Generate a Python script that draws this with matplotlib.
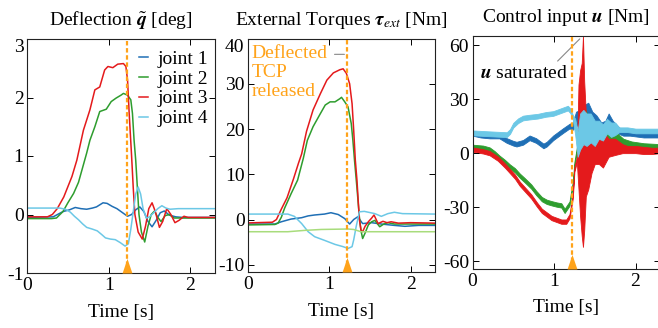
import numpy as np
import matplotlib
matplotlib.use("Agg")
import matplotlib.pyplot as plt
from matplotlib.transforms import blended_transform_factory

plt.rcParams['font.family'] = ['Liberation Serif', 'DejaVu Serif']
plt.rcParams['mathtext.fontset'] = 'stix'
plt.rcParams['axes.unicode_minus'] = False
plt.rcParams['font.size'] = 14

# ---------------- data ----------------
t_release = 1.22
joint_labels = ['joint 1', 'joint 2', 'joint 3', 'joint 4']
c_blue, c_green, c_red, c_cyan, c_lgreen = '#1f6fb5', '#2e9d2e', '#e41a1c', '#6cc8e6', '#a8dc7c'
c_orange = '#ffa31a'

# Panel 1: deflection [deg]
q1_t = [0, 0.32, 0.44, 0.52, 0.59, 0.66, 0.73, 0.80, 0.85, 0.93, 0.98, 1.04, 1.10, 1.18, 1.23, 1.28,
        1.33, 1.38, 1.43, 1.48, 1.53, 1.58, 1.63, 1.68, 1.74, 1.82, 1.90, 2.3]
q1_v = [-0.05, -0.04, 0.05, 0.08, 0.12, 0.10, 0.09, 0.11, 0.13, 0.20, 0.19, 0.14, 0.10, 0.02, -0.03, 0.0,
        0.08, 0.13, 0.05, -0.12, -0.21, -0.10, 0.03, 0.06, -0.01, -0.04, -0.05, -0.05]
q2_t = [0, 0.30, 0.36, 0.44, 0.50, 0.57, 0.63, 0.69, 0.73, 0.77, 0.83, 0.89, 0.97, 1.03, 1.09, 1.15,
        1.18, 1.23, 1.27, 1.29, 1.31, 1.33, 1.37, 1.40, 1.44, 1.48, 1.52, 1.56, 1.60, 1.64, 1.69, 1.74,
        1.80, 2.3]
q2_v = [-0.07, -0.07, -0.06, 0.05, 0.20, 0.36, 0.55, 0.85, 1.05, 1.27, 1.50, 1.76, 1.80, 1.93, 1.99, 2.04,
        2.07, 2.04, 1.96, 1.73, 1.27, 0.93, 0.0, -0.30, -0.47, -0.20, 0.0, 0.06, -0.05, -0.12, -0.02, 0.0,
        -0.06, -0.06]
q3_t = [0, 0.25, 0.31, 0.37, 0.45, 0.55, 0.61, 0.69, 0.77, 0.83, 0.89, 0.95, 0.99, 1.05, 1.11, 1.18,
        1.21, 1.23, 1.25, 1.28, 1.30, 1.32, 1.36, 1.41, 1.45, 1.49, 1.53, 1.57, 1.62, 1.66, 1.71, 1.76,
        1.81, 1.86, 1.92, 1.97, 2.3]
q3_v = [-0.04, -0.04, 0.0, 0.10, 0.30, 0.65, 0.93, 1.44, 1.79, 2.13, 2.18, 2.47, 2.53, 2.51, 2.57, 2.58,
        2.53, 2.30, 1.73, 0.99, 0.45, 0.0, -0.30, -0.42, -0.20, 0.10, 0.20, 0.05, -0.22, -0.12, 0.10, 0.0,
        -0.14, -0.10, -0.03, -0.05, -0.05]
q4_t = [0, 0.40, 0.47, 0.53, 0.58, 0.63, 0.68, 0.73, 0.80, 0.86, 0.92, 0.96, 1.02, 1.08, 1.14, 1.20,
        1.24, 1.27, 1.30, 1.33, 1.36, 1.39, 1.42, 1.46, 1.50, 1.55, 1.60, 1.65, 1.70, 1.75, 1.85, 2.3]
q4_v = [0.11, 0.11, 0.09, 0.04, -0.03, -0.09, -0.16, -0.22, -0.25, -0.28, -0.35, -0.40, -0.42, -0.43, -0.48, -0.54,
        -0.50, -0.25, 0.05, 0.35, 0.47, 0.35, 0.10, -0.06, -0.04, 0.03, 0.10, 0.15, 0.11, 0.09, 0.10, 0.10]

# Panel 2: external torques [Nm]
e1_t = [0, 0.33, 0.41, 0.53, 0.66, 0.74, 0.82, 0.94, 1.02, 1.11, 1.19, 1.25, 1.30, 1.35, 1.41, 1.52,
        1.64, 1.80, 1.93, 2.1, 2.3]
e1_v = [-1.0, -1.0, -0.5, 0.1, 0.4, 0.8, 1.0, 1.2, 1.5, 1.1, 0.2, -1.0, 0.0, 0.6, -0.9, -0.7,
        -1.0, -1.3, -1.5, -1.3, -1.3]
e2_t = [0, 0.33, 0.37, 0.41, 0.45, 0.53, 0.61, 0.68, 0.73, 0.80, 0.89, 0.95, 1.01, 1.07, 1.13, 1.15,
        1.19, 1.23, 1.27, 1.29, 1.31, 1.34, 1.37, 1.39, 1.41, 1.44, 1.48, 1.52, 1.56, 1.62, 1.67, 1.72,
        1.80, 2.3]
e2_v = [-1.2, -1.1, -0.8, 0.5, 2.5, 5.7, 8.7, 13.5, 17.5, 20.5, 23.4, 25.3, 26.0, 26.0, 26.7, 27.0,
        26.0, 24.9, 21.2, 17.5, 13.1, 7.0, 0.5, -2.5, -4.2, -3.0, -1.2, -0.5, -0.2, -1.6, -1.0, -0.7,
        -1.0, -1.0]
e3_t = [0, 0.30, 0.35, 0.41, 0.48, 0.56, 0.62, 0.66, 0.72, 0.80, 0.89, 0.97, 1.05, 1.13, 1.17, 1.21,
        1.25, 1.28, 1.30, 1.32, 1.34, 1.37, 1.39, 1.41, 1.44, 1.48, 1.52, 1.55, 1.60, 1.66, 1.71, 1.76,
        1.85, 2.0, 2.3]
e3_v = [-0.75, -0.6, 0.0, 2.3, 4.8, 9.0, 12.4, 14.5, 19.5, 24.2, 27.8, 30.8, 32.4, 33.1, 33.3, 32.3,
        30.0, 25.6, 19.7, 13.1, 8.7, 0.0, -2.4, -2.7, -1.5, -0.5, 0.3, 1.0, -0.9, -0.4, -0.7, -0.5,
        -0.8, -0.7, -0.8]
e4_t = [0, 0.49, 0.57, 0.66, 0.74, 0.82, 0.94, 1.07, 1.17, 1.23, 1.28, 1.30, 1.33, 1.37, 1.43, 1.56,
        1.64, 1.72, 1.80, 1.90, 2.3]
e4_v = [1.2, 1.2, 0.7, -0.9, -2.7, -3.8, -4.6, -5.5, -6.0, -6.4, -6.0, -4.5, -1.6, 1.7, 1.8, 1.3,
        0.7, 1.3, 1.6, 1.3, 1.2]
e5_t = [0, 0.49, 0.70, 0.90, 1.23, 1.30, 1.39, 2.3]
e5_v = [-2.7, -2.7, -2.4, -2.2, -2.1, -2.2, -2.7, -2.7]

# Panel 3: control input [Nm], noisy bands given as lower/upper envelopes
u1_t = [0, 0.1, 0.21, 0.33, 0.42, 0.5, 0.54, 0.62, 0.70, 0.78, 0.87, 0.91, 0.99, 1.05, 1.11, 1.19,
        1.23, 1.27, 1.32, 1.38, 1.42, 1.47, 1.52, 1.58, 1.63, 1.67, 1.72, 1.78, 1.85, 1.93, 2.1, 2.3]
u1_lo = [9.7, 8.7, 8.2, 8.2, 5.7, 4.2, 3.7, 4.7, 7.2, 5.7, 2.7, 3.7, 7.2, 9.2, 11.2, 13.7,
         13, 15, 16, 17, 20, 15, 13, 11, 12, 16, 12, 11, 9.7, 9.7, 8.7, 8.7]
u1_hi = [12.3, 11.3, 10.8, 10.8, 8.3, 6.8, 6.3, 7.3, 9.8, 8.3, 5.3, 6.3, 9.8, 11.8, 13.8, 16.3,
         17, 23, 24, 27, 28, 23, 21, 17, 18, 22, 18, 15, 12.3, 12.3, 11.3, 11.3]
u2_t = [0, 0.13, 0.21, 0.27, 0.33, 0.40, 0.46, 0.52, 0.58, 0.64, 0.72, 0.78, 0.85, 0.91, 0.97, 1.03,
        1.09, 1.13, 1.19, 1.23, 1.25, 1.28, 1.31, 1.35, 1.39, 1.43, 1.47, 1.52, 1.57, 1.62, 1.66, 1.70,
        1.75, 1.80, 1.85, 1.95, 2.1, 2.3]
u2_lo = [2.3, 1.8, 0.8, -1.2, -3.7, -6.2, -8.7, -10.7, -13.7, -16.2, -19.7, -23.2, -26.7, -28.2, -29.0, -29.7,
         -30.2, -33.2, -29.2, -18.2, -7.2, 0.8, -9, -11, -11, -8, -5, 0, -3, 2, 0, 4,
         4, 3, 3, 2.5, 2, 1.5]
u2_hi = [4.7, 4.2, 3.2, 1.2, -1.3, -3.8, -6.3, -8.3, -11.3, -13.8, -17.3, -20.8, -24.3, -25.8, -26.6, -27.3,
         -27.8, -30.8, -26.8, -15.8, -4.8, 3.2, 13, 18, 24, 18, 15, 15, 14, 14, 13, 14,
         12, 10, 8, 6.5, 5.5, 5]
u3_t = [0, 0.13, 0.21, 0.31, 0.40, 0.46, 0.52, 0.58, 0.64, 0.72, 0.79, 0.85, 0.91, 0.97, 1.03, 1.09,
        1.15, 1.19, 1.23, 1.25, 1.28, 1.30, 1.32, 1.34, 1.355, 1.37, 1.39, 1.42, 1.46, 1.50, 1.55, 1.60,
        1.67, 1.75, 1.84, 1.90, 2.0, 2.1, 2.2, 2.3]
u3_lo = [0.8, -0.2, -1.2, -4.2, -8.2, -11.2, -14.2, -18.2, -21.2, -25.2, -29.7, -33.2, -35.2, -37.2, -38.2, -39.2,
         -39.2, -36.2, -25.2, -10.2, -5, -20, -35, -46, -52, -43, -24, -20, -11, -6, -6, -8,
         -2, -1, 0, 0, 0, -0.5, -0.5, 0]
u3_hi = [3.2, 2.2, 1.2, -1.8, -5.8, -8.8, -11.8, -15.8, -18.8, -22.8, -27.3, -30.8, -32.8, -34.8, -35.8, -36.8,
         -36.8, -33.8, -22.8, -7.8, -2, 38, 46, 50, 65, 40, 22, 8, 11, 13, 10, 12,
         8, 8, 5, 4, 4, 3.5, 3, 3]
u4_t = [0, 0.2, 0.42, 0.46, 0.50, 0.56, 0.62, 0.70, 0.80, 0.90, 0.99, 1.05, 1.11, 1.17, 1.20, 1.23,
        1.26, 1.29, 1.32, 1.36, 1.40, 1.45, 1.50, 1.55, 1.60, 1.65, 1.70, 1.75, 1.80, 1.9, 2.0, 2.3]
u4_lo = [9.9, 9.4, 8.9, 10.7, 14.2, 16.7, 18.2, 18.7, 19.2, 20.2, 20.7, 21.7, 22.7, 23.7, 22.2, 18.7,
         10, -2, 2, 5, 4, 6, 4, 8, 7, 11, 9, 10, 11.7, 11.7, 11, 11]
u4_hi = [12.6, 12.1, 11.6, 13.3, 16.8, 19.3, 20.8, 21.3, 21.8, 22.8, 23.3, 24.3, 25.3, 26.3, 24.8, 21.3,
         19, 12, 22, 24, 22, 22, 18, 18, 16, 19, 17, 17, 14.3, 14.3, 13.6, 13.6]

# ---------------- figure ----------------
W, H = 658, 328
fig = plt.figure(figsize=(W / 100, H / 100), dpi=100)

def px_axes(l, r, t, b):
    return fig.add_axes([l / W, (H - b) / H, (r - l) / W, (b - t) / H])

ax1 = px_axes(27, 215, 39, 273)
ax2 = px_axes(248, 435, 38.5, 272)
ax3 = px_axes(472.5, 660, 36, 268.5)

lw = 1.1
ax1.plot(q1_t, q1_v, color=c_blue, lw=lw, label=joint_labels[0])
ax1.plot(q2_t, q2_v, color=c_green, lw=lw, label=joint_labels[1])
ax1.plot(q3_t, q3_v, color=c_red, lw=lw, label=joint_labels[2])
ax1.plot(q4_t, q4_v, color=c_cyan, lw=lw, label=joint_labels[3])

ax2.plot(e1_t, e1_v, color=c_blue, lw=lw)
ax2.plot(e2_t, e2_v, color=c_green, lw=lw)
ax2.plot(e3_t, e3_v, color=c_red, lw=lw)
ax2.plot(e4_t, e4_v, color=c_cyan, lw=lw)
ax2.plot(e5_t, e5_v, color=c_lgreen, lw=lw)

for tt, lo, hi, c in [(u1_t, u1_lo, u1_hi, c_blue), (u2_t, u2_lo, u2_hi, c_green),
                      (u3_t, u3_lo, u3_hi, c_red), (u4_t, u4_lo, u4_hi, c_cyan)]:
    ax3.fill_between(tt, lo, hi, color=c, lw=0.6, edgecolor=c)

ylims = [(-1, 3), (-11.6, 40), (-64, 65)]
yticks = [[-1, 0, 1, 2, 3], [-10, 0, 10, 20, 30, 40], [-60, -30, 0, 30, 60]]
titles = [r'Deflection $\tilde{\mathbfit{q}}$ [deg]',
          r'External Torques $\mathbfit{\tau}_{ext}$ [Nm]',
          r'Control input $\mathbfit{u}$ [Nm]']
tri = [(-1.7, 0), (1.7, 0), (0, 5)]
for ax, yl, yt, ti in zip([ax1, ax2, ax3], ylims, yticks, titles):
    ax.set_xlim(0, 2.3)
    ax.set_ylim(*yl)
    ax.set_xticks([0, 1, 2])
    ax.set_yticks(yt)
    ax.axvline(t_release, color=c_orange, lw=1.6, ls=(0, (2.0, 1.2)), zorder=5)
    tr = blended_transform_factory(ax.transData, ax.transAxes)
    ax.plot([t_release], [0], marker=tri, ms=21, color=c_orange, transform=tr,
            clip_on=False, zorder=6, markeredgewidth=0)
    ax.tick_params(direction='in', top=True, right=True, length=4, width=0.7,
                   labelsize=14, pad=3)
    ax.tick_params(axis='y', pad=2.5)
    for s in ax.spines.values():
        s.set_linewidth(0.8)
        s.set_color('#222222')
    ax.set_xlabel('Time [s]', fontsize=14, labelpad=7)
    ax.set_title(ti, fontsize=14, pad=10)

# top y tick label sits just below the upper edge (as in the reference)
for ax in (ax1, ax2):
    ax.yaxis.get_major_ticks()[-1].label1.set_verticalalignment('top')

ax1.legend(loc='upper right', bbox_to_anchor=(0.997, 0.978), frameon=False, fontsize=14,
           handlelength=0.5, handletextpad=0.5, labelspacing=0.12, borderaxespad=0.0,
           borderpad=0.3)

ax2.text(0.04, 38.6, 'Deflected\nTCP\nreleased', color=c_orange, fontsize=14,
         va='top', ha='left', linespacing=1.17)
ax2.annotate('', xy=(t_release, 36.5), xytext=(1.03, 36.5),
             arrowprops=dict(arrowstyle='-', color='#888888', lw=0.8))

ax3.text(0.09, 44, r'$\mathbfit{u}$ saturated', fontsize=14, va='center', ha='left')
ax3.annotate('', xy=(1.34, 64.5), xytext=(1.02, 50),
             arrowprops=dict(arrowstyle='-', color='#888888', lw=0.8))

fig.savefig('out.png', dpi=100)
